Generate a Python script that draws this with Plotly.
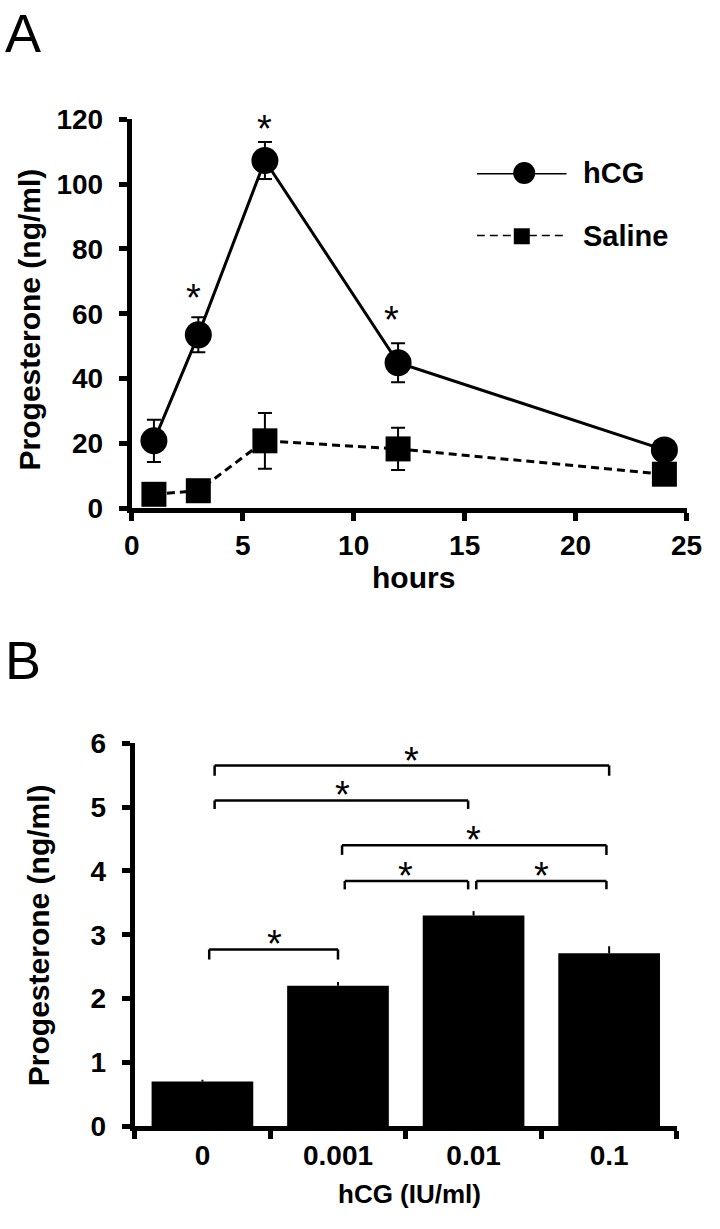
import plotly.graph_objects as go

# ---------------- Panel A data ----------------
hours = [1, 3, 6, 12, 24]
hcg_mean = [20.8, 53.5, 107.3, 44.9, 18.0]
hcg_err = [6.5, 5.4, 5.7, 6.0, 2.0]
saline_mean = [4.3, 5.4, 20.8, 18.3, 10.5]
saline_err = [1.5, 1.5, 8.6, 6.5, 2.0]
sig_x = [2.8, 6.0, 11.7]
sig_y = [66.5, 118.5, 59.5]
xticks_a = [0, 5, 10, 15, 20, 25]
yticks_a = [0, 20, 40, 60, 80, 100, 120]

# ---------------- Panel B data ----------------
doses = ["0", "0.001", "0.01", "0.1"]
dose_mean = [0.70, 2.20, 3.30, 2.71]
dose_err = [0.03, 0.06, 0.07, 0.11]
yticks_b = [0, 1, 2, 3, 4, 5, 6]
# significance brackets: left x, right x, bar height, end height
br_x0 = [0.05, 1.05, 2.02, 1.03, 0.09, 0.09]
br_x1 = [1.00, 1.96, 2.98, 2.98, 1.96, 3.00]
br_y = [2.77, 3.84, 3.84, 4.40, 5.10, 5.65]
br_end = [2.61, 3.71, 3.71, 4.25, 4.97, 5.49]
star_x = [0.53, 1.50, 2.50, 2.00, 1.03, 1.54]
star_y = [2.98, 4.05, 4.05, 4.61, 5.31, 5.85]

W, H = 720, 1229
FONT = "Liberation Sans, Arial, sans-serif"


def px_x(p):
    return p / W


def px_y(p):
    return 1 - p / H


fig = go.Figure()

# Panel A traces
fig.add_trace(go.Scatter(
    x=hours, y=hcg_mean, mode="lines+markers", xaxis="x", yaxis="y",
    line=dict(color="black", width=3),
    marker=dict(symbol="circle", size=27, color="black", line=dict(width=0)),
    error_y=dict(type="data", array=hcg_err, visible=True, color="black",
                 thickness=2, width=7),
    cliponaxis=False, showlegend=False))
fig.add_trace(go.Scatter(
    x=hours, y=saline_mean, mode="lines+markers", xaxis="x", yaxis="y",
    line=dict(color="black", width=3, dash="8px,5px"),
    marker=dict(symbol="square", size=25, color="black", line=dict(width=0)),
    error_y=dict(type="data", array=saline_err, visible=True, color="black",
                 thickness=2, width=7),
    cliponaxis=False, showlegend=False))

# Panel B bars
fig.add_trace(go.Bar(
    x=doses, y=dose_mean, xaxis="x2", yaxis="y2", width=0.75,
    marker=dict(color="black", line=dict(width=0)),
    error_y=dict(type="data", array=dose_err, arrayminus=[0] * len(dose_err),
                 symmetric=False, visible=True, color="black", thickness=2, width=0),
    showlegend=False))

# Custom legend (long line samples)
fig.add_trace(go.Scatter(x=[0, 1], y=[1, 1], mode="lines", xaxis="x3", yaxis="y3",
                         line=dict(color="black", width=3), showlegend=False,
                         cliponaxis=False, hoverinfo="skip"))
fig.add_trace(go.Scatter(x=[0.527], y=[1], mode="markers", xaxis="x3", yaxis="y3",
                         marker=dict(symbol="circle", size=22, color="black"),
                         showlegend=False, cliponaxis=False, hoverinfo="skip"))
fig.add_trace(go.Scatter(x=[0, 1], y=[0, 0], mode="lines", xaxis="x3", yaxis="y3",
                         line=dict(color="black", width=3, dash="8px,5px"),
                         showlegend=False, cliponaxis=False, hoverinfo="skip"))
fig.add_trace(go.Scatter(x=[0.5], y=[0], mode="markers", xaxis="x3", yaxis="y3",
                         marker=dict(symbol="square", size=16, color="black"),
                         showlegend=False, cliponaxis=False, hoverinfo="skip"))

axis_common = dict(showline=True, linecolor="black", linewidth=5, ticks="outside",
                   tickcolor="black", tickwidth=5, ticklen=8, showgrid=False,
                   zeroline=False, ticklabeloverflow="allow",
                   tickfont=dict(family=FONT, size=28, color="black", weight="bold"))

shapes = []
for x0, x1, yb, ye in zip(br_x0, br_x1, br_y, br_end):
    for (a, b, c, d) in [(x0, ye, x0, yb), (x0, yb, x1, yb), (x1, yb, x1, ye)]:
        shapes.append(dict(type="line", xref="x2", yref="y2", x0=a, y0=b, x1=c, y1=d,
                           line=dict(color="black", width=2.5)))

annotations = []
for sx, sy in zip(sig_x, sig_y):
    annotations.append(dict(x=sx, y=sy, xref="x", yref="y", text="*", showarrow=False,
                            font=dict(family=FONT, size=38, color="black"),
                            xanchor="center", yanchor="middle", yshift=-5))
for sx, sy in zip(star_x, star_y):
    annotations.append(dict(x=sx, y=sy, xref="x2", yref="y2", text="*", showarrow=False,
                            font=dict(family=FONT, size=38, color="black"),
                            xanchor="center", yanchor="middle", yshift=-8))

bold30 = dict(family=FONT, size=30, color="black", weight="bold")
annotations += [
    dict(x=px_x(22), y=px_y(312), xref="paper", yref="paper", text="Progesterone (ng/ml)",
         textangle=-90, showarrow=False, font=bold30, xanchor="center", yanchor="middle"),
    dict(x=px_x(419), y=px_y(577), xref="paper", yref="paper", text="hours",
         showarrow=False, font=bold30, xanchor="center", yanchor="middle"),
    dict(x=px_x(31), y=px_y(944), xref="paper", yref="paper", text="Progesterone (ng/ml)",
         textangle=-90, showarrow=False, font=bold30, xanchor="center", yanchor="middle"),
    dict(x=px_x(415), y=px_y(1210), xref="paper", yref="paper", text="hCG (IU/ml)",
         showarrow=False, font=dict(family=FONT, size=26, color="black", weight="bold"),
         xanchor="center", yanchor="middle"),
    dict(x=px_x(593), y=1, xref="paper", yref="y3", text="hCG", showarrow=False,
         font=dict(family=FONT, size=29, color="black", weight="bold"),
         xanchor="left", yanchor="middle"),
    dict(x=px_x(593), y=0, xref="paper", yref="y3", text="Saline", showarrow=False,
         font=dict(family=FONT, size=29, color="black", weight="bold"),
         xanchor="left", yanchor="middle"),
    dict(x=px_x(16), y=1, xref="paper", yref="paper", text="A", showarrow=False,
         font=dict(family=FONT, size=54, color="black"), xanchor="center", yanchor="top",
         yshift=14),
    dict(x=px_x(16), y=px_y(662), xref="paper", yref="paper", text="B", showarrow=False,
         font=dict(family=FONT, size=54, color="black"), xanchor="center", yanchor="middle"),
]

fig.update_layout(
    width=W, height=H, margin=dict(l=0, r=0, t=0, b=0),
    paper_bgcolor="white", plot_bgcolor="white",
    xaxis=dict(domain=[px_x(128), px_x(702)], range=[0, 25], anchor="y",
               tickvals=xticks_a, ticklabelstandoff=0, **axis_common),
    yaxis=dict(domain=[px_y(506), px_y(107)], range=[0, 120], anchor="x",
               tickvals=yticks_a, ticklabelstandoff=10, **axis_common),
    xaxis2=dict(domain=[px_x(131), px_x(692)], type="category", range=[-0.5, 3.5],
                anchor="y2", tickson="boundaries", categoryorder="array",
                categoryarray=doses, ticklabelstandoff=0, **axis_common),
    yaxis2=dict(domain=[px_y(1140), px_y(747)], range=[0, 6], anchor="x2",
                tickvals=yticks_b, ticklabelstandoff=10, **axis_common),
    xaxis3=dict(domain=[px_x(485), px_x(578)], range=[0, 1], visible=False, anchor="y3"),
    yaxis3=dict(domain=[px_y(227), px_y(162)], range=[0, 1], visible=False, anchor="x3"),
    shapes=shapes, annotations=annotations, bargap=0.25,
)

# remove the default page margin so the 720x1229 figure fills the window exactly
page_fix = ("document.documentElement.style.margin='0';"
            "document.body.style.margin='0';"
            "document.documentElement.style.overflow='hidden';"
            "document.body.style.overflow='hidden';")
fig.write_html("out.html", post_script=page_fix, config={"displayModeBar": False})
